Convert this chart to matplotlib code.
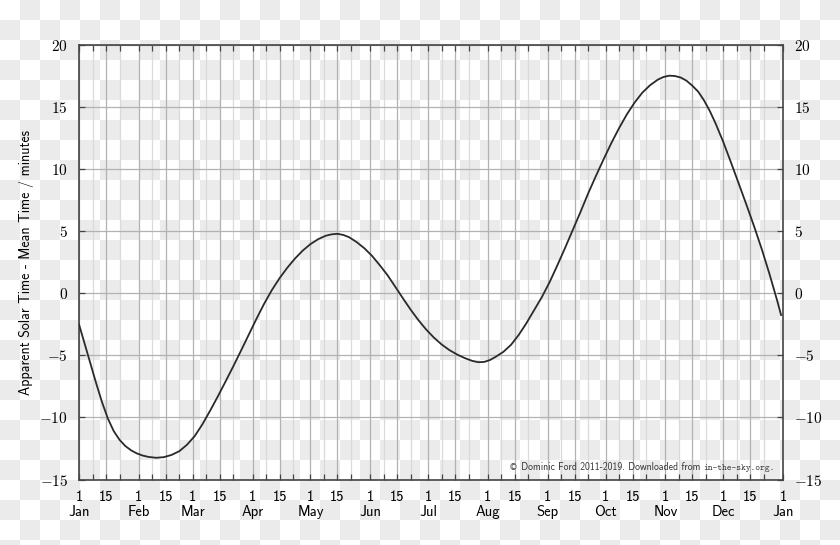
import numpy as np
import matplotlib
matplotlib.use('Agg')
import matplotlib.pyplot as plt
from matplotlib.colors import ListedColormap

# ---------------- data ----------------
months = ['Jan', 'Feb', 'Mar', 'Apr', 'May', 'Jun', 'Jul', 'Aug', 'Sep', 'Oct', 'Nov', 'Dec', 'Jan']
month_start = [0, 31, 59, 90, 120, 151, 181, 212, 243, 273, 304, 334, 365]

# day of year (0 = 1 Jan) and apparent - mean solar time (minutes)
day = [0, 3, 6, 9, 12, 15, 18, 21, 24, 27, 30, 33, 36, 40, 44, 48, 52, 56, 60, 64, 68,
       72, 76, 80, 84, 88, 92, 96, 100, 104, 108, 112, 116, 120, 124, 128, 131, 134, 137,
       140, 144, 148, 152, 156, 160, 164, 168, 172, 176, 180, 184, 188, 192, 196, 200,
       204, 207, 210, 213, 216, 220, 224, 228, 232, 236, 240, 244, 248, 252, 256, 260,
       264, 268, 272, 276, 280, 284, 288, 292, 296, 300, 303, 306, 309, 312, 315, 318,
       321, 324, 327, 330, 334, 338, 342, 346, 350, 354, 358, 362, 364]
eot = [-2.5, -4.1, -5.7, -7.3, -8.8, -10.1, -11.1, -11.8, -12.3, -12.65, -12.9, -13.07,
       -13.18, -13.25, -13.2, -13.02, -12.72, -12.2, -11.5, -10.55, -9.45,
       -8.3, -7.1, -5.88, -4.62, -3.34, -2.06, -0.84, 0.26, 1.22, 2.06, 2.8, 3.44, 3.96,
       4.36, 4.64, 4.75, 4.79, 4.7,
       4.52, 4.12, 3.62, 3.0, 2.25, 1.45, 0.52, -0.42, -1.33, -2.17, -2.92, -3.57, -4.12,
       -4.57, -4.93, -5.22,
       -5.45, -5.55, -5.53, -5.38, -5.12, -4.72, -4.15, -3.35, -2.4, -1.35, -0.3, 0.9,
       2.25, 3.65, 5.1, 6.55,
       8.05, 9.45, 10.8, 12.1, 13.3, 14.4, 15.35, 16.15, 16.75, 17.2, 17.42, 17.53, 17.5,
       17.38, 17.12, 16.72,
       16.25, 15.55, 14.7, 13.7, 12.2, 10.55, 8.86, 7.15, 5.4, 3.55, 1.55, -0.6, -1.75]

yticks = [-15, -10, -5, 0, 5, 10, 15, 20]
ylabel = 'Apparent Solar Time - Mean Time / minutes'
credit_mark = '\u00a9'
credit = ' Dominic Ford 2011-2019. Downloaded from '
credit_site = 'in-the-sky.org.'

# ---------------- figure ----------------
plt.rcParams['mathtext.fontset'] = 'cm'
W, H = 840, 545
fig = plt.figure(figsize=(W / 100, H / 100), dpi=100)

# transparent-background checkerboard
bg = fig.add_axes([0, 0, 1, 1], zorder=-10)
rows, cols = 28, 42
checker = np.add.outer(np.arange(rows), np.arange(cols)) % 2
bg.imshow(checker, cmap=ListedColormap(['white', '#ebebeb']), extent=(0, 840, 560, 0),
          interpolation='nearest', aspect='auto')
bg.set_xlim(0, 840)
bg.set_ylim(545, 0)
bg.axis('off')

L, R, T, B = 79, 783, 45, 479.5
ax = fig.add_axes([L / W, 1 - B / H, (R - L) / W, (B - T) / H])
ax.patch.set_alpha(0)

ax.plot(day, eot, color='#2a2a2a', lw=1.3, zorder=3, solid_joinstyle='round')
ax.set_xlim(0, 365)
ax.set_ylim(-15, 20)

# x ticks
major = []
major_labels = []
minor = []
for i, m0 in enumerate(month_start):
    major.append(m0)
    major_labels.append('1\n' + months[i])
    if i < 12:
        major.append(m0 + 14)
        major_labels.append('15')
        minor += [m0 + 7, m0 + 21]
ax.set_xticks(major)
ax.set_xticklabels(major_labels, family='cmss10', fontsize=10.5, linespacing=1.1)
ax.set_xticks(minor, minor=True)

ax.set_yticks(yticks)
ax.set_yticklabels([r'$\mathrm{%d}$' % v for v in yticks], fontsize=11)

ax.tick_params(which='both', direction='in', top=True, right=True, labelright=True,
               length=4, width=0.9, color='#444444')
ax.tick_params(axis='x', which='major', pad=7.5)
ax.tick_params(axis='y', which='major', pad=8)

ax.grid(which='major', axis='x', color='#b2b2b2', lw=0.9)
ax.grid(which='minor', axis='x', color='#dadada', lw=0.9)
ax.grid(which='major', axis='y', color='#b2b2b2', lw=0.9)
ax.set_axisbelow(True)

for s in ax.spines.values():
    s.set_color('#444444')
    s.set_linewidth(1.2)

ax.set_ylabel(ylabel, family='cmss10', fontsize=10)
ax.yaxis.set_label_coords((34 - L) / (R - L), 0.5)

t0 = ax.text((509 - L) / (R - L), (B - 472) / (B - T), credit_mark, family='DejaVu Sans',
             fontsize=6.3, ha='left', va='bottom', color='#333333', transform=ax.transAxes)
t1 = ax.annotate(credit, xy=(1, 0), xycoords=t0, ha='left', va='bottom',
                 family='cmss10', fontsize=7.0, color='#333333')
ax.annotate(credit_site, xy=(1, 0), xycoords=t1, ha='left', va='bottom',
            family='cmtt10', fontsize=6.6, color='#333333')

fig.savefig('out.png', dpi=100)
